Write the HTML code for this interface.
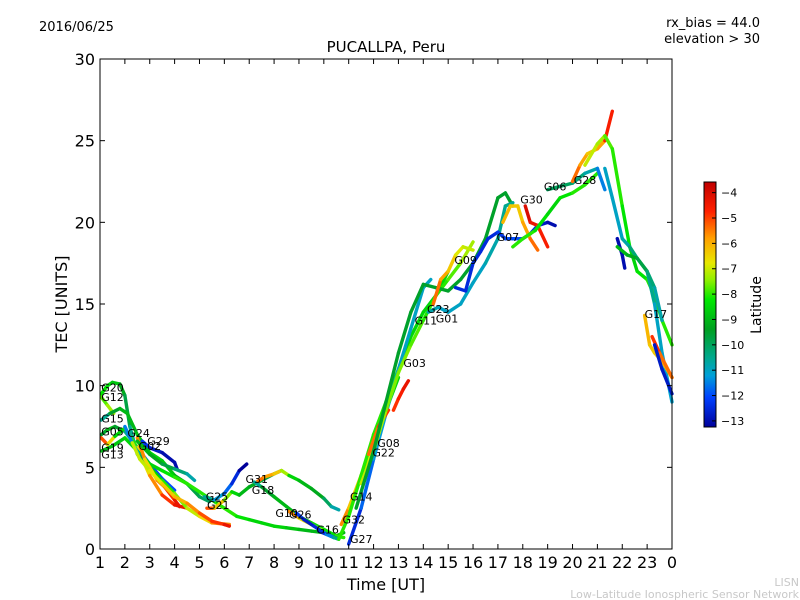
<!DOCTYPE html>
<html><head><meta charset="utf-8"><style>
body{margin:0;background:#fff;}
svg{display:block;font-family:"DejaVu Sans","Liberation Sans",sans-serif;}
</style></head><body>
<svg id="chart" width="800" height="600" viewBox="0 0 800 600">
<defs>
<linearGradient id="cbgrad" x1="0" y1="1" x2="0" y2="0">
<stop offset="0" stop-color="#00009a"/>
<stop offset="0.12" stop-color="#0040ff"/>
<stop offset="0.21" stop-color="#00a0d8"/>
<stop offset="0.28" stop-color="#00a890"/>
<stop offset="0.40" stop-color="#00a020"/>
<stop offset="0.52" stop-color="#00e800"/>
<stop offset="0.60" stop-color="#90f000"/>
<stop offset="0.67" stop-color="#e8e800"/>
<stop offset="0.77" stop-color="#ffa000"/>
<stop offset="0.88" stop-color="#ff2000"/>
<stop offset="1" stop-color="#c00000"/>
</linearGradient>
</defs>
<text x="39" y="31" font-size="13">2016/06/25</text>
<text x="760" y="27" font-size="13" text-anchor="end">rx_bias = 44.0</text>
<text x="760" y="43" font-size="13" text-anchor="end">elevation &gt; 30</text>
<text x="386" y="52" font-size="15" text-anchor="middle">PUCALLPA, Peru</text>
<text x="0" y="0" font-size="16" text-anchor="middle" transform="translate(67,304) rotate(-90)">TEC [UNITS]</text>
<text x="386" y="590" font-size="16" text-anchor="middle">Time [UT]</text>
<text x="799" y="586" font-size="11" fill="#c8c8c8" text-anchor="end">LISN</text>
<text x="799" y="598" font-size="11" fill="#c8c8c8" text-anchor="end">Low-Latitude Ionospheric Sensor Network</text>
<g id="tracks"></g>
<g id="labels"></g>
<rect x="100" y="59" width="572" height="490" fill="none" stroke="#000" stroke-width="1"/>
<g id="axes"></g>
<rect x="704" y="182" width="12" height="245" fill="url(#cbgrad)" stroke="#000" stroke-width="1"/>
<g id="cbticks"></g>
<text x="0" y="0" font-size="14" text-anchor="middle" transform="translate(761,305) rotate(-90)">Latitude</text>
</svg>
<script>
const xTicks=[1,2,3,4,5,6,7,8,9,10,11,12,13,14,15,16,17,18,19,20,21,22,23,24];
const xTickLabels=["1","2","3","4","5","6","7","8","9","10","11","12","13","14","15","16","17","18","19","20","21","22","23","0"];
const yTicks=[0,5,10,15,20,25,30];
const cbTicks=[-4,-5,-6,-7,-8,-9,-10,-11,-12,-13];
const tracks=[
{t:[1.05,1.3,1.5,1.8,2.0,2.2,2.5],v:[9.5,10.0,10.2,10.1,9.4,7.5,5.8],lat:[-8,-8.5,-8.5,-9,-9.5,-10,-11]},
{t:[1.05,1.3,1.55],v:[9.3,8.8,8.3],lat:[-8,-7.5,-7]},
{t:[1.05,1.4,1.8,2.1,2.5,3,3.5,4,4.5,5,5.4],v:[7.9,8.3,8.6,8.3,7,5.9,5.4,4.5,4.0,3.2,2.9],lat:[-11,-10,-9,-9,-9,-8.5,-8.5,-9,-9.5,-10,-10]},
{t:[1.05,1.3,1.6,2.0,2.3,2.6,3,3.5,4],v:[7.0,7.3,7.5,7.2,6.6,6,5.2,4.3,3.6],lat:[-10,-9,-9,-10,-11,-11,-12,-12,-12]},
{t:[1.05,1.3,1.6,2,2.5,3,3.5,4,4.5],v:[6.8,6.4,6.9,7.4,6.2,4.5,3.3,2.7,2.5],lat:[-5,-5,-8,-9,-7,-6,-5,-4.5,-4]},
{t:[1.05,1.5,2,2.5,3,3.5,4,4.5,5,5.5,6,6.5,7,7.5,8,8.5,9,9.5,10,10.5,10.8],v:[6,6.3,6.8,6.0,5.2,4.8,4.4,4.0,3.5,3.0,2.5,2.0,1.8,1.6,1.4,1.3,1.2,1.1,1.0,0.8,1.0],lat:[-9,-9,-8.5,-8.5,-8.5,-8.5,-8,-8,-8,-8,-8,-8,-8.5,-8.5,-8.5,-8.5,-9,-9,-9,-9,-9]},
{t:[2.0,2.3,2.6,3,3.5,4,4.5,5,5.5,6.2],v:[7.5,6.5,5.7,5,4.2,3.4,2.5,2.0,1.6,1.5],lat:[-12,-11,-11,-9,-8,-8,-7,-7,-6,-5]},
{t:[2.7,3.0,3.5,4.0,4.1],v:[6.6,6.2,5.9,5.3,4.9],lat:[-12,-12.5,-13,-13,-13]},
{t:[2.5,2.8,3,3.3,3.6,4,4.2],v:[6.8,5.5,5,4.2,3.8,3,2.6],lat:[-5,-6,-7,-6,-5,-4.5,-4]},
{t:[2.3,2.6,3,3.5,4,4.5,5,5.5,6,6.2],v:[6.5,5.5,4.8,4.0,3.2,2.8,2.2,1.7,1.5,1.4],lat:[-7,-7,-7,-6.5,-6,-6,-5,-5,-4.5,-4]},
{t:[2.5,3,3.5,4,4.5,4.8],v:[6.6,5.8,5.2,4.9,4.6,4.2],lat:[-9,-9,-9.5,-10,-10.5,-11]},
{t:[5.3,5.6,6,6.3,6.6,7,7.5,8,8.3],v:[2.5,2.5,3.0,3.5,3.3,3.8,4.2,4.6,4.8],lat:[-4.5,-5.5,-7,-8,-9,-9,-9.5,-10,-10]},
{t:[5.2,5.6,6.0,6.3,6.6,6.9],v:[3.2,3.0,3.4,4.0,4.8,5.2],lat:[-10,-11,-11.5,-12,-13,-13.5]},
{t:[7.3,7.6,8,8.3,8.6,9,9.5,10,10.3,10.6],v:[4.1,4.4,4.6,4.8,4.5,4.2,3.7,3.1,2.6,2.4],lat:[-5,-5.5,-6,-6.5,-8,-9,-9,-9.5,-10.5,-11]},
{t:[7.2,7.5,8,8.5,9,9.5,10,10.5,10.8],v:[4.1,3.8,3.2,2.6,2.0,1.6,1.2,0.8,0.7],lat:[-11,-10,-9,-9,-9,-8.5,-8.5,-8,-8]},
{t:[8.6,9,9.5,10,10.3,10.6],v:[2.3,1.9,1.5,1.1,0.8,0.6],lat:[-5,-6,-7,-8,-9,-10]},
{t:[8.9,9.2,9.6,10,10.4],v:[2.2,1.8,1.4,1.0,0.7],lat:[-12,-12.5,-13,-12,-11]},
{t:[9.8,10.1,10.4,10.6],v:[1.1,0.9,0.7,0.6],lat:[-13,-12,-11,-10]},
{t:[10.7,11,11.5,12,12.5,13],v:[1.5,2.5,4.5,6.5,8.5,10.5],lat:[-5,-6,-6.5,-7,-8,-9]},
{t:[10.6,11,11.5,12,12.5,13,13.5,14,14.5,15],v:[0.6,2,4.5,7,9,11,13,14.5,15.5,17],lat:[-8,-8,-8,-8,-8,-8.5,-8.5,-8.5,-8.5,-8.5]},
{t:[11,11.5,12,12.5,13,13.5,14,14.3],v:[0.3,2.5,5.5,8.3,11,13.5,16,16.5],lat:[-13,-12,-11.5,-11,-11,-11,-11,-11]},
{t:[11.8,12.2,12.6],v:[5.8,7.5,8.5],lat:[-5.5,-5,-4.5]},
{t:[12.8,13.0,13.2,13.4],v:[8.5,9.2,9.8,10.3],lat:[-5,-4.5,-4.5,-4]},
{t:[11.5,12,12.5,13,13.5,14,14.5,15,15.5,16],v:[4,6,8.5,10.8,12.5,14,15.5,16.5,17.5,18.8],lat:[-7,-7,-7.5,-7.5,-7.5,-8,-8,-8,-7.5,-7]},
{t:[11.3,12,12.5,13,13.5,14,14.5,15,15.5,16,16.5,17,17.3,17.6],v:[2.5,6,9,12,14.5,16.2,16,15.8,16.5,17.5,19,21.5,21.8,21],lat:[-9.5,-9.5,-9.5,-9.5,-9.5,-9.5,-9.5,-9.5,-9.5,-9.5,-9.5,-9.5,-9.5,-9.5]},
{t:[14.4,14.7,15,15.3,15.6,16],v:[15,16.5,17,18,18.5,18.3],lat:[-5,-5.5,-6,-6.5,-7,-7]},
{t:[14.2,14.6,15,15.5,16,16.5,17,17.3,17.6],v:[14.5,14.8,14.5,15,16.3,17.5,19,21,21.2],lat:[-10.5,-11,-11,-11,-11,-11,-10.5,-10.5,-10.5]},
{t:[15.3,15.7,16,16.3,16.6,17,17.3,17.6,18,18.3,18.6,19,19.3],v:[16,15.8,17.5,18.2,19,19.4,19,19,19,19.3,19.8,20,19.8],lat:[-12.5,-12.5,-12.5,-12.5,-12.5,-12.5,-12,-12,-12,-12.5,-12.5,-13,-13]},
{t:[18.1,18.3,18.6,19],v:[21,20,19.8,18.5],lat:[-4,-4,-4.5,-4.5]},
{t:[17.2,17.5,17.8,18,18.3,18.6],v:[20,21,21,20,19,18.3],lat:[-6,-6,-6.5,-6,-5.5,-5]},
{t:[17.6,18,18.5,19,19.5,20,20.5,21],v:[18.5,19,19.5,20.5,21.5,21.8,22.3,23],lat:[-8,-8,-8,-8.5,-8.5,-8,-8,-8]},
{t:[19,19.5,20,20.5,21,21.3],v:[22,22.2,22.4,23,23.3,22],lat:[-10,-10,-10,-10.5,-11,-12]},
{t:[20.0,20.3,20.6,21,21.3,21.6],v:[22.5,23.5,24.2,24.5,25,26.8],lat:[-5,-5.5,-6,-6.5,-5,-4]},
{t:[20.5,21,21.3,21.6,22,22.3,22.6,23,23.3,23.6,24],v:[23.5,24.8,25.3,24.5,21,18.5,17,16.5,15.5,14,12.5],lat:[-7,-7,-7.5,-8,-8,-8.5,-8.5,-8,-8,-8,-8]},
{t:[21.3,21.6,22,22.3,22.6,23,23.3,23.6,24],v:[23.3,21.5,19,18.5,17.8,17,15,12,9],lat:[-11,-11,-11,-10.5,-10,-10,-11,-11,-11.2]},
{t:[21.8,22,22.1],v:[19,18,17.2],lat:[-13,-13,-13]},
{t:[21.8,22.2,22.6,23,23.3,23.6],v:[18.5,18,17.8,17,16,14],lat:[-9,-9,-9.5,-10,-10.5,-11]},
{t:[22.9,23.1,23.3,23.6,24],v:[14.3,12.5,12,11.5,10.5],lat:[-6,-6,-6.5,-6,-6]},
{t:[23.2,23.5,24],v:[13,12,10.5],lat:[-4.5,-5,-5.5]},
{t:[23.3,23.6,24],v:[12.5,11,9.5],lat:[-12.5,-13,-12.5]}
];
const satNames=["G20","G12","G15","G05","G24","G29","G02","G19","G13","G25","G21","G31","G18","G10","G26","G16","G14","G32","G27","G08","G22","G03","G11","G23","G01","G09","G07","G30","G06","G28","G17"];
const satT=[1.05,1.05,1.05,1.05,2.1,2.9,2.55,1.05,1.05,5.25,5.3,6.85,7.1,8.05,8.6,9.7,11.05,10.75,11.05,12.15,11.95,13.2,13.65,14.15,14.5,15.25,16.95,17.9,18.85,20.05,22.9];
const satV=[9.9,9.3,8.0,7.2,7.1,6.6,6.3,6.2,5.8,3.2,2.7,4.3,3.6,2.2,2.1,1.2,3.2,1.8,0.6,6.5,5.9,11.4,14.0,14.7,14.1,17.7,19.1,21.4,22.2,22.6,14.4];

const NS='http://www.w3.org/2000/svg';
const X0=100,X1=672,Y0=549,Y1=59;
function xs(t){return X0+(t-1)*(X1-X0)/23;}
function ys(v){return Y0-v*(Y0-Y1)/30;}
const cstops=[[-13.24,[0,0,154]],[-12.1,[0,64,255]],[-11.2,[0,160,216]],[-10.5,[0,168,144]],[-9.4,[0,160,32]],[-8.2,[0,232,0]],[-7.4,[144,240,0]],[-6.7,[232,232,0]],[-5.7,[255,160,0]],[-4.6,[255,32,0]],[-3.58,[192,0,0]]];
function cmap(l){
  if(l<=cstops[0][0])return 'rgb('+cstops[0][1]+')';
  for(let i=1;i<cstops.length;i++){
    if(l<=cstops[i][0]){const a=cstops[i-1],b=cstops[i];const f=(l-a[0])/(b[0]-a[0]);
      const c=a[1].map((x,k)=>Math.round(x+(b[1][k]-x)*f));return 'rgb('+c.join(',')+')';}
  }
  return 'rgb('+cstops[cstops.length-1][1]+')';
}
const tg=document.getElementById('tracks');
tracks.forEach((tr,ti)=>{
  const g=document.createElementNS(NS,'g');
  
  
  for(let i=0;i<tr.t.length-1;i++){
    const ln=document.createElementNS(NS,'line');
    ln.setAttribute('x1',xs(tr.t[i]));ln.setAttribute('y1',ys(tr.v[i]));
    ln.setAttribute('x2',xs(tr.t[i+1]));ln.setAttribute('y2',ys(tr.v[i+1]));
    ln.setAttribute('stroke',cmap((tr.lat[i]+tr.lat[i+1])/2));
    ln.setAttribute('stroke-width','3.4');ln.setAttribute('stroke-linecap','round');
    
    
    g.appendChild(ln);
  }
  tg.appendChild(g);
});
const lg=document.getElementById('labels');
satNames.forEach((n,i)=>{
  const tx=document.createElementNS(NS,'text');
  tx.setAttribute('x',xs(satT[i]));tx.setAttribute('y',ys(satV[i])+4);
  tx.setAttribute('font-size','11');tx.textContent=n;
  
  
  lg.appendChild(tx);
});
const ax=document.getElementById('axes');
function mk(tag,attrs,txt){const e=document.createElementNS(NS,tag);for(const k in attrs)e.setAttribute(k,attrs[k]);if(txt!==undefined)e.textContent=txt;ax.appendChild(e);return e;}
xTicks.forEach((t,i)=>{
  const x=xs(t);
  const a=mk('line',{x1:x,y1:Y0,x2:x,y2:Y0-5,stroke:'#000'});
  
  
  const b=mk('line',{x1:x,y1:Y1,x2:x,y2:Y1+5,stroke:'#000'});
  
  
  const l=mk('text',{x:x,y:568,'font-size':16,'text-anchor':'middle'},xTickLabels[i]);
  
  
});
yTicks.forEach(v=>{
  const y=ys(v);
  const a=mk('line',{x1:X0,y1:y,x2:X0+5,y2:y,stroke:'#000'});
  
  
  const b=mk('line',{x1:X1,y1:y,x2:X1-5,y2:y,stroke:'#000'});
  
  
  const l=mk('text',{x:95,y:y+6,'font-size':16,'text-anchor':'end'},String(v));
  
  
});
const cg=document.getElementById('cbticks');
cbTicks.forEach(v=>{
  const y=182+(-3.58-v)*245/(13.24-3.58);
  const ln=document.createElementNS(NS,'line');
  ln.setAttribute('x1',712);ln.setAttribute('x2',716);ln.setAttribute('y1',y);ln.setAttribute('y2',y);ln.setAttribute('stroke','#000');
  
  
  cg.appendChild(ln);
  const tx=document.createElementNS(NS,'text');
  tx.setAttribute('x',721);tx.setAttribute('y',y+4);tx.setAttribute('font-size','11');
  tx.textContent='\u2212'+Math.abs(v);
  
  
  cg.appendChild(tx);
});
</script>
</body></html>
